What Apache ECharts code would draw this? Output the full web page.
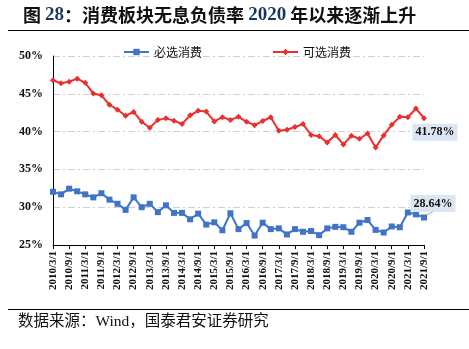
<!DOCTYPE html>
<html><head><meta charset="utf-8">
<script src="https://cdn.jsdelivr.net/npm/echarts@6/dist/echarts.min.js"></script>
<style>html,body{margin:0;padding:0;background:#fff}#c{width:469px;height:349px}</style>
</head><body><div id="c"></div>
<script>
var categories = ['2010/3/1','2010/6/1','2010/9/1','2010/12/1','2011/3/1','2011/6/1','2011/9/1','2011/12/1',
'2012/3/1','2012/6/1','2012/9/1','2012/12/1','2013/3/1','2013/6/1','2013/9/1','2013/12/1',
'2014/3/1','2014/6/1','2014/9/1','2014/12/1','2015/3/1','2015/6/1','2015/9/1','2015/12/1',
'2016/3/1','2016/6/1','2016/9/1','2016/12/1','2017/3/1','2017/6/1','2017/9/1','2017/12/1',
'2018/3/1','2018/6/1','2018/9/1','2018/12/1','2019/3/1','2019/6/1','2019/9/1','2019/12/1',
'2020/3/1','2020/6/1','2020/9/1','2020/12/1','2021/3/1','2021/6/1','2021/9/1'];
var staples = [32.04,31.7,32.45,32.1,31.7,31.3,31.85,31.0,30.45,29.65,31.3,30.0,30.45,29.35,30.25,29.25,29.25,28.4,29.15,27.7,28.0,26.95,29.2,27.1,27.9,26.25,27.95,27.1,27.2,26.4,27.1,26.75,26.85,26.3,27.2,27.4,27.35,26.75,27.95,28.3,27.0,26.65,27.45,27.35,29.3,29.05,28.64];
var discretionary = [46.8,46.4,46.6,47.0,46.45,45.05,44.8,43.55,42.9,42.1,42.6,41.3,40.5,41.55,41.75,41.45,41.0,42.15,42.75,42.65,41.35,41.9,41.55,41.95,41.3,40.85,41.4,41.9,40.1,40.25,40.6,41.0,39.55,39.4,38.55,39.55,38.3,39.45,39.05,39.75,37.9,39.5,40.9,41.95,41.9,43.05,41.78];
var seriesNames = ['必选消费','可选消费'];
var yTicks = {min:25, max:50, interval:5};

var serif = '"Liberation Serif","Noto Sans CJK SC",serif';
function lastLabel(arr){
  return arr.map(function(v,i){
    if(i!==arr.length-1) return v;
    return {value:v, label:{show:true, position:'inside', formatter:v.toFixed(2)+'%',
      fontFamily:serif, fontWeight:'bold', fontSize:12, color:'#111',
      backgroundColor:'#dce6f2', padding:[3,3,2,3]}};
  });
}
var chart = echarts.init(document.getElementById('c'));
chart.setOption({
  animation:false,
  title:{text:'{a|图 }{n|28}{a|：消费板块无息负债率 }{n|2020}{a| 年以来逐渐上升}', left:18, top:1,
    textStyle:{rich:{
      a:{fontFamily:'"Noto Sans CJK SC"', fontWeight:'bold', fontSize:18, color:'#111'},
      n:{fontFamily:serif, fontWeight:'bold', fontSize:19, color:'#17365d'}}}},
  graphic:[
    {type:'line', shape:{x1:8,y1:30.5,x2:469,y2:30.5}, style:{stroke:'#000', lineWidth:1}},
    {type:'line', shape:{x1:8,y1:309.5,x2:469,y2:309.5}, style:{stroke:'#000', lineWidth:1}},
    {type:'text', left:18, top:314, style:{text:'数据来源：Wind，国泰君安证券研究', font:'15.5px "Liberation Serif","Noto Sans CJK SC"', fill:'#111'}}
  ],
  legend:{left:118, top:41, itemWidth:25, itemHeight:8, itemGap:70,
    textStyle:{fontFamily:'"Noto Sans CJK SC"', fontSize:12, color:'#111'}},
  grid:{left:53, right:45, top:56, bottom:104},
  xAxis:{type:'category', data:categories, boundaryGap:false,
    axisLine:{lineStyle:{color:'#000', width:1}},
    axisTick:{interval:1, length:4, lineStyle:{color:'#000'}},
    axisLabel:{interval:1, rotate:90, margin:6, fontFamily:serif, fontWeight:'bold', fontSize:11, color:'#111'}},
  yAxis:{type:'value', min:yTicks.min, max:yTicks.max, interval:yTicks.interval,
    axisLine:{show:true, lineStyle:{color:'#000'}},
    axisTick:{show:false},
    axisLabel:{formatter:'{value}%', margin:10, fontFamily:serif, fontWeight:'bold', fontSize:12, color:'#111'},
    splitLine:{lineStyle:{color:'#d0d0d0', type:[7,3,2,3], width:1}}},
  series:[
    {name:seriesNames[0], type:'line', data:lastLabel(staples), symbol:'rect', symbolSize:6, showAllSymbol:true,
      itemStyle:{color:'#3f74c6'}, lineStyle:{color:'#3f74c6', width:2},
      labelLayout:{dx:9, dy:-14}, labelLine:{show:true, lineStyle:{color:'#aaa', width:1}}},
    {name:seriesNames[1], type:'line', data:lastLabel(discretionary), symbol:'diamond', symbolSize:6, showAllSymbol:true,
      itemStyle:{color:'#e8302e'}, lineStyle:{color:'#e8302e', width:2},
      labelLayout:{dx:11, dy:14}}
  ]
});
</script></body></html>
